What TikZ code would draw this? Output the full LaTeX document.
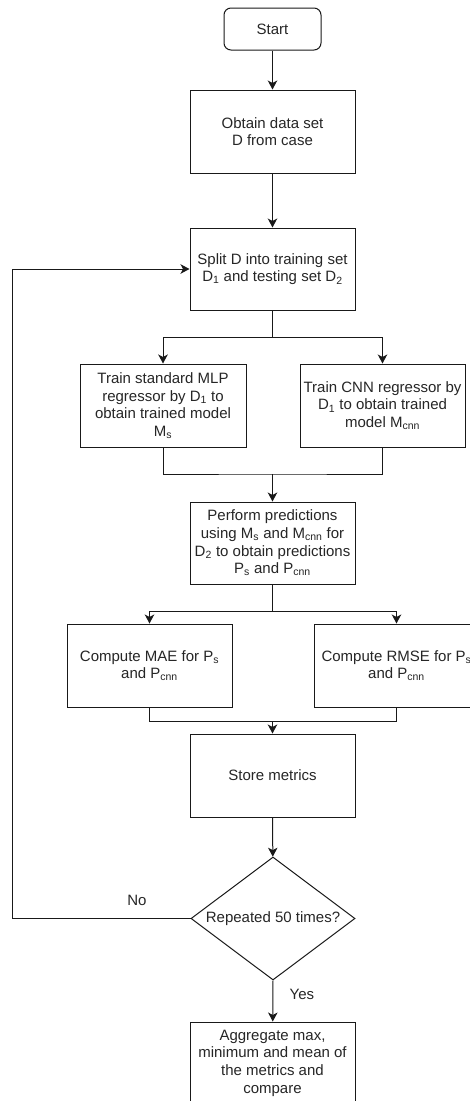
\documentclass[tikz,border=0pt]{standalone}
\usepackage{fontspec}
\setmainfont{Liberation Sans}
\usetikzlibrary{shapes.geometric,arrows.meta}
\begin{document}
\begin{tikzpicture}[x=1pt,y=-1pt,
  txt/.style={font=\fontsize{15}{17.6}\selectfont, text=black!85},
  box/.style={txt, draw=black!90, line width=1pt, minimum width=165pt, minimum height=83pt, align=center, inner sep=0pt},
  startbox/.style={box, minimum width=97pt, minimum height=42pt, rounded corners=7pt},
  decision/.style={txt, draw=black!90, line width=1pt, shape=diamond, aspect=1.33, minimum width=164pt, minimum height=123pt, inner sep=0pt, align=center},
  line/.style={draw=black!90, line width=1pt},
  arr/.style={line, -{Stealth[length=9pt,width=9.5pt,inset=2.5pt]}},
  lbl/.style={txt}
]
\useasboundingbox (0,0) rectangle (470,1101);
\fill[white] (0,0) rectangle (470,1101);

\node[startbox] (start) at (272.5,29) {Start};
\node[box] (obtain) at (272.5,131.5) {Obtain data set\\D from case};
\node[box, minimum height=82pt] (split) at (272.5,269) {Split D into training set\\D\textsubscript{1} and testing set D\textsubscript{2}};
\node[box, minimum width=166pt] (mlp) at (163,405.5) {Train standard MLP\\regressor by D\textsubscript{1} to\\obtain trained model\\M\textsubscript{s}};
\node[box] (cnn) at (382.5,405.5) {Train CNN regressor by\\D\textsubscript{1} to obtain trained\\model M\textsubscript{cnn}};
\node[box, minimum height=82pt] (perform) at (272.5,543) {Perform predictions\\using M\textsubscript{s} and M\textsubscript{cnn} for\\D\textsubscript{2} to obtain predictions\\P\textsubscript{s} and P\textsubscript{cnn}};
\node[box] (mae) at (149.5,665.5) {Compute MAE for P\textsubscript{s}\\and P\textsubscript{cnn}};
\node[box] (rmse) at (396.5,665.5) {Compute RMSE for P\textsubscript{s}\\and P\textsubscript{cnn}};
\node[box] (store) at (272.5,775.5) {Store metrics};
\node[decision] (dia) at (273,918.5) {Repeated 50 times?};
\node[box, minimum height=82pt] (agg) at (272.5,1063) {Aggregate max,\\minimum and mean of\\the metrics and\\compare};

\coordinate (j1) at (272.5,337);
\coordinate (j2) at (272.5,474);
\coordinate (j3) at (272.5,611);
\coordinate (j4) at (272.5,721);
\coordinate (loopc) at (12,918.5);

\draw[arr] (start) -- (obtain);
\draw[arr] (obtain) -- (split);
\draw[line] (split.south) -- (j1);
\draw[arr] (j1) -| (mlp.north);
\draw[arr] (j1) -| (cnn.north);
\draw[line] (mlp.south) |- (j2) -| (cnn.south);
\draw[arr] (j2) -- (perform);
\draw[line] (perform.south) -- (j3);
\draw[arr] (j3) -| (mae.north);
\draw[arr] (j3) -| (rmse.north);
\draw[line] (mae.south) |- (j4) -| (rmse.south);
\draw[arr] (j4) -- (store);
\draw[arr] (store) -- (dia);
\draw[arr] (dia.west) -- node[lbl, pos=0.3, anchor=south, yshift=9pt] {No} (loopc) |- (split.west);
\draw[arr] (dia.south) -- node[lbl, pos=0.35, anchor=west, xshift=13pt] {Yes} (agg);
\end{tikzpicture}
\end{document}
